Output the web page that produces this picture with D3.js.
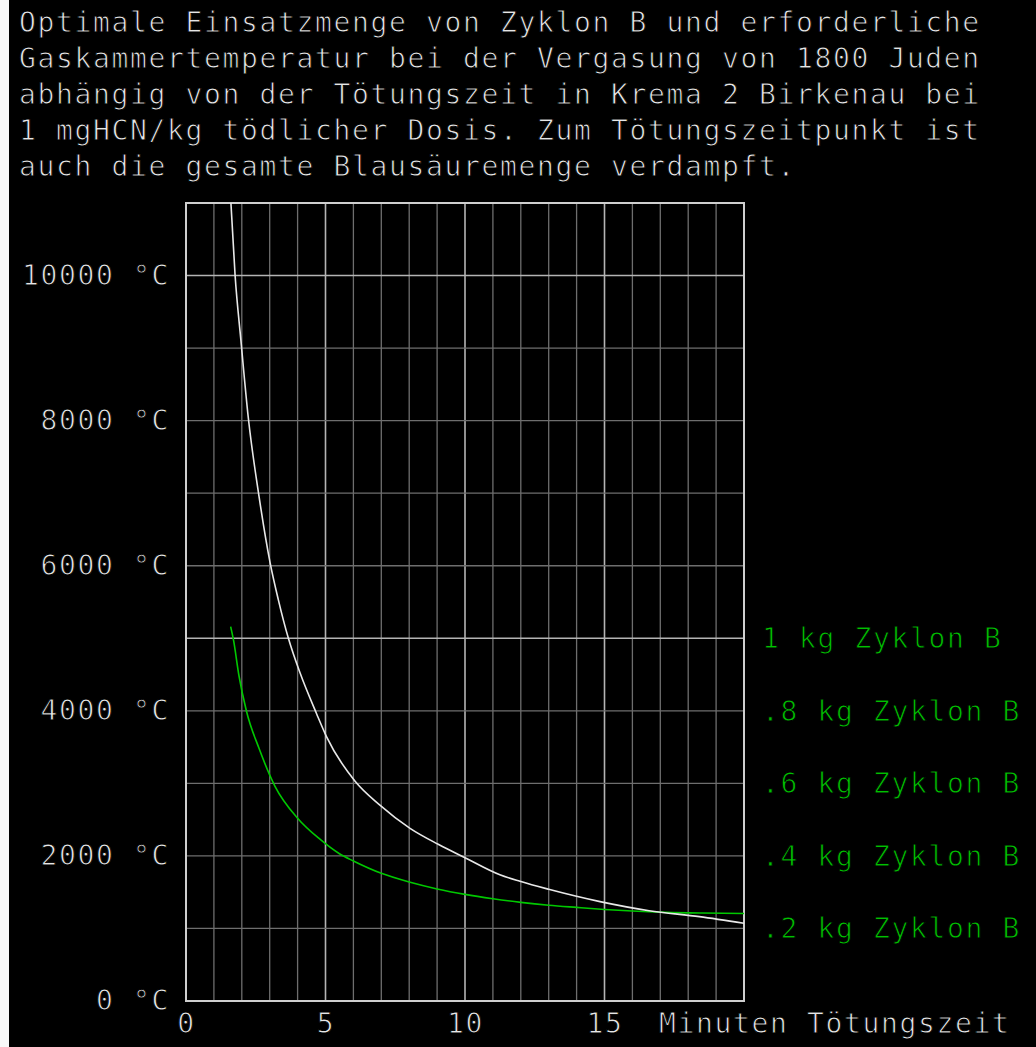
<!DOCTYPE html>
<html>
<head>
<meta charset="utf-8">
<script src="https://cdn.jsdelivr.net/npm/d3@7"></script>
<style>
  html, body { margin: 0; padding: 0; background: #000; }
  svg { display: block; }
  text { font-family: "DejaVu Sans Mono", monospace; stroke: #000; stroke-width: 0.9px; }
</style>
</head>
<body>
<svg id="chart" width="1036" height="1047"></svg>
<script>
// ---- data ----
const titleLines = [
  "Optimale Einsatzmenge von Zyklon B und erforderliche",
  "Gaskammertemperatur bei der Vergasung von 1800 Juden",
  "abhängig von der Tötungszeit in Krema 2 Birkenau bei",
  "1 mgHCN/kg tödlicher Dosis. Zum Tötungszeitpunkt ist",
  "auch die gesamte Blausäuremenge verdampft."
];
const yTickValues = [0, 2000, 4000, 6000, 8000, 10000];
const xTickValues = [0, 5, 10, 15];
const xAxisTitle = "Minuten Tötungszeit";
const legendLabels = ["1 kg Zyklon B", ".8 kg Zyklon B", ".6 kg Zyklon B", ".4 kg Zyklon B", ".2 kg Zyklon B"];

const whiteTime = [1.61, 1.76, 1.97, 2.23, 2.62, 3.01, 3.31, 3.67, 4.09, 4.68, 5.04, 6.06, 6.95, 8.03, 9.04, 10.0, 11.25, 11.97, 13.0, 14.84, 16.6, 18.4, 20];
const whiteTemp = [11000, 10000, 9100, 8050, 6950, 6050, 5530, 5000, 4520, 3960, 3640, 3030, 2700, 2380, 2160, 1975, 1740, 1650, 1540, 1370, 1245, 1163, 1072];

const greenTime = [1.6, 1.7, 1.9, 2.17, 2.62, 3.19, 4.0, 4.8, 5.5, 6.0, 7.0, 8.0, 9.0, 10.0, 11.0, 12.0, 13.0, 14.0, 15.0, 16.0, 17.2, 18.5, 20];
const greenTemp = [5160, 4980, 4480, 3990, 3480, 2960, 2520, 2230, 2030, 1930, 1760, 1640, 1545, 1470, 1410, 1360, 1320, 1290, 1262, 1240, 1222, 1212, 1206];

// ---- drawing ----
const svg = d3.select("#chart");
const W = 1036, H = 1047;
const LS = "1.64px";

svg.append("rect").attr("x", 0).attr("y", 0).attr("width", W).attr("height", H).attr("fill", "#000");
svg.append("rect").attr("x", 0).attr("y", 0).attr("width", 9).attr("height", H).attr("fill", "#f8f8f8");

const x = d3.scaleLinear().domain([0, 20]).range([186, 744]);
const y = d3.scaleLinear().domain([0, 11000]).range([1001, 203]);

// title
svg.append("g").selectAll("text").data(titleLines).join("text")
  .attr("x", 19)
  .attr("y", (d, i) => 32 + i * 36)
  .attr("fill", "#e6e6e6")
  .attr("font-size", 28)
  .style("letter-spacing", LS)
  .text(d => d);

// grid
const grid = svg.append("g");
const xs = d3.range(1, 20);
grid.selectAll("line.v").data(xs).join("line")
  .attr("x1", d => x(d)).attr("x2", d => x(d))
  .attr("y1", y(11000)).attr("y2", y(0))
  .attr("stroke", d => d % 5 === 0 ? "#b4b4b4" : "#6e6e6e")
  .attr("stroke-width", d => d % 5 === 0 ? 1.6 : 1.3);
const ys = d3.range(1000, 11000, 1000);
grid.selectAll("line.h").data(ys).join("line")
  .attr("x1", x(0)).attr("x2", x(20))
  .attr("y1", d => y(d)).attr("y2", d => y(d))
  .attr("stroke", d => d % 5000 === 0 ? "#b4b4b4" : "#6e6e6e")
  .attr("stroke-width", d => d % 5000 === 0 ? 1.6 : 1.3);

// frame
svg.append("rect")
  .attr("x", x(0)).attr("y", y(11000))
  .attr("width", x(20) - x(0)).attr("height", y(0) - y(11000))
  .attr("fill", "none").attr("stroke", "#cfcfcf").attr("stroke-width", 2);

// axes
const yAxis = d3.axisLeft(y).tickValues(yTickValues).tickSize(0).tickPadding(16)
  .tickFormat(d => d + " °C");
const gy = svg.append("g").attr("transform", `translate(${x(0)},0)`).call(yAxis);
gy.select(".domain").remove();
gy.selectAll("text").attr("fill", "#e6e6e6").attr("font-size", 28)
  .attr("font-family", "DejaVu Sans Mono, monospace").style("letter-spacing", LS);

const xAxis = d3.axisBottom(x).tickValues(xTickValues).tickSize(0).tickPadding(12);
const gx = svg.append("g").attr("transform", `translate(0,${y(0)})`).call(xAxis);
gx.select(".domain").remove();
gx.selectAll("text").attr("fill", "#e6e6e6").attr("font-size", 28)
  .attr("font-family", "DejaVu Sans Mono, monospace").style("letter-spacing", LS);

svg.append("text")
  .attr("x", 659).attr("y", 1033)
  .attr("fill", "#e6e6e6").attr("font-size", 28)
  .style("letter-spacing", LS)
  .text(xAxisTitle);

// curves
const line = d3.line().x(d => x(d[0])).y(d => y(d[1])).curve(d3.curveMonotoneX);
const whiteData = d3.zip(whiteTime, whiteTemp);
const greenData = d3.zip(greenTime, greenTemp);

svg.append("path").datum(greenData).attr("d", line)
  .attr("fill", "none").attr("stroke", "#00c800").attr("stroke-width", 1.6);
svg.append("path").datum(whiteData).attr("d", line)
  .attr("fill", "none").attr("stroke", "#e8e8e8").attr("stroke-width", 1.6);

// legend labels (placed beside the 5000..1000 grid rows)
svg.append("g").selectAll("text").data(legendLabels).join("text")
  .attr("x", 762)
  .attr("y", (d, i) => y(5000 - i * 1000) + 10)
  .attr("fill", "#00c000")
  .attr("font-size", 28)
  .style("letter-spacing", LS)
  .text(d => d);
</script>
</body>
</html>
